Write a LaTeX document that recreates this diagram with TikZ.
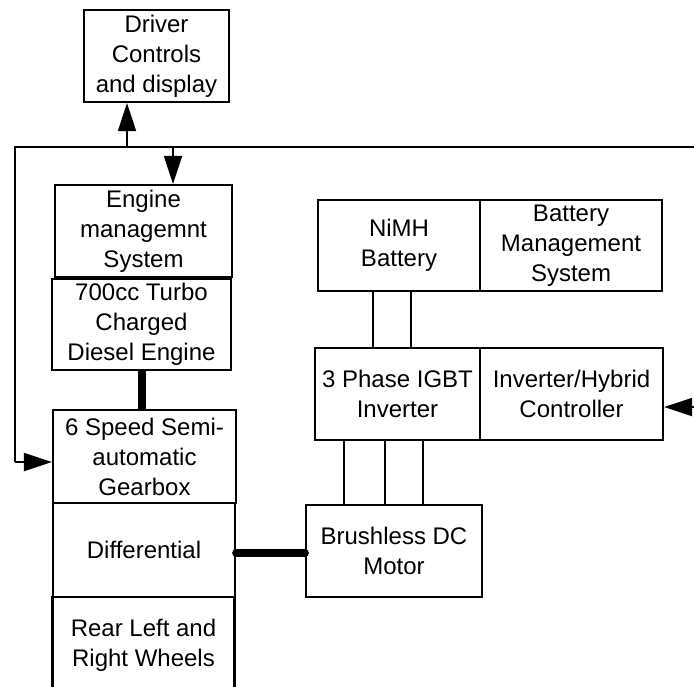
\documentclass[tikz,border=0pt]{standalone}
\usepackage{fontspec}
\setmainfont{Liberation Sans}
\usetikzlibrary{arrows.meta}
\tikzset{
  unit/.style={draw,line width=1.1pt,align=center,inner sep=0pt,
    font=\fontsize{12}{15}\selectfont},
  shaft/.style={line width=4pt},
  wire/.style={line width=1pt},
}
\begin{document}
\begin{tikzpicture}[x=0.5pt,y=-0.5pt,>={Triangle[length=14pt,width=9pt]}]
      \clip (0,0) rectangle (694,686);
      % engine side
      \node[unit,minimum width=72.5pt,minimum height=46pt] (drv) at (156.5,56) {Driver\\Controls\\and display};
      \node[unit,minimum width=88.5pt,minimum height=46pt] (ems) at (143.5,231) {Engine\\managemnt\\System};
      \node[unit,minimum width=89.5pt,minimum height=45.5pt] (eng) at (141.5,324.5) {700cc Turbo\\Charged\\Diesel Engine};
      \node[unit,minimum width=91.5pt,minimum height=46.5pt] (gear) at (144.5,456.5) {6 Speed Semi-\\automatic\\Gearbox};
      \node[unit,minimum width=91pt,minimum height=47pt] (diff) at (144,550) {Differential};
      \node[unit,minimum width=91pt,minimum height=48pt] (whl) at (143.5,645) {Rear Left and\\Right Wheels};
      % electric side
      \node[unit,minimum width=81pt,minimum height=45.5pt] (bat) at (399,245.5) {NiMH\\Battery};
      \node[unit,minimum width=91pt,minimum height=45.5pt] (bms) at (571,245.5) {Battery\\Management\\System};
      \node[unit,minimum width=82.5pt,minimum height=46pt] (inv) at (397.5,394) {3 Phase IGBT\\Inverter};
      \node[unit,minimum width=91.5pt,minimum height=46pt] (ctl) at (571.5,394) {Inverter/Hybrid\\Controller};
      \node[unit,minimum width=88pt,minimum height=46pt] (mot) at (394,551) {Brushless DC\\Motor};
      % control bus
      \coordinate (busR) at (694,147);
      \coordinate (busL) at (15,147);
      \coordinate (tapD) at (127,147);
      \coordinate (tapE) at (173,147);
      \coordinate (tapG) at (15,462);
      \coordinate (inR) at (694,407);
      \draw[wire] (busR) -- (busL) -- (tapG);
      \draw[wire,->] (tapG) -- (tapG -| gear.west);
      \draw[wire,->] (tapD) -- (tapD |- drv.south);
      \draw[wire,->] (tapE) -- (tapE |- ems.north);
      \draw[wire,->] (inR) -- (inR -| ctl.east);
      % mechanical links
      \coordinate (sh) at (142,0);
      \coordinate (dm) at (0,553);
      \draw[shaft] (sh |- eng.south) -- (sh |- gear.north);
      \draw[shaft,line cap=round] (dm -| diff.east) -- (dm -| mot.west);
      % dc and phase wires
      \foreach \x in {373,411} {
        \draw[wire] (bat.south -| \x,0) -- (inv.north -| \x,0);
      }
      \foreach \x in {344,385,423} {
        \draw[wire] (inv.south -| \x,0) -- (mot.north -| \x,0);
      }
    \end{tikzpicture}
\end{document}
